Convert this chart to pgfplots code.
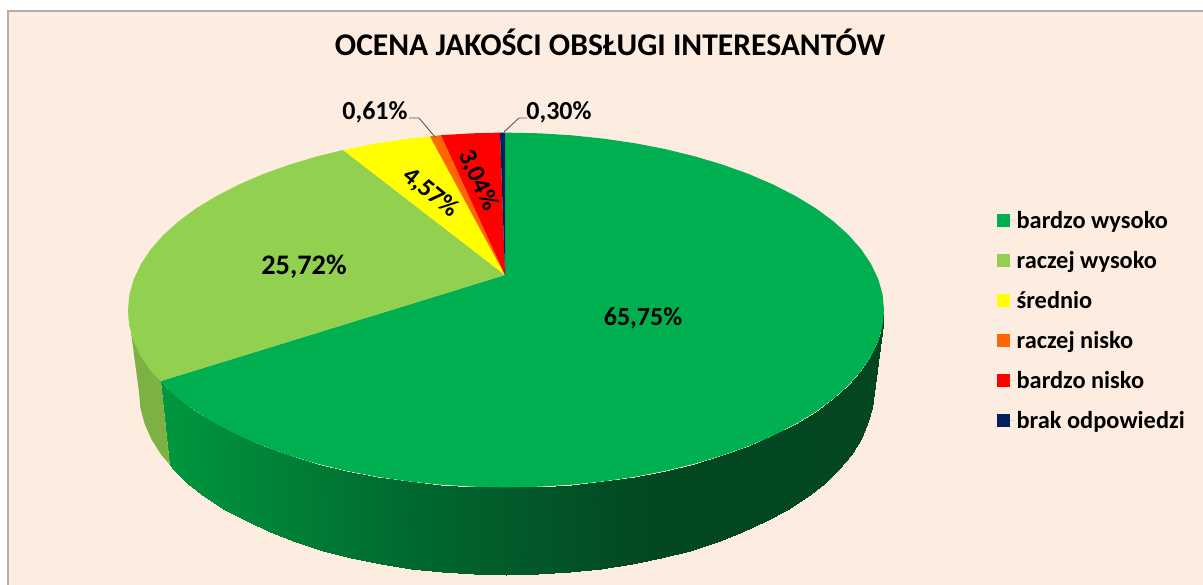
\documentclass[border=0pt]{standalone}
\usepackage{pgfplots}
\pgfplotsset{compat=1.18}
\usepackage{fontspec}
\setmainfont{Carlito}
\definecolor{bgc}{RGB}{253,237,225}
\definecolor{framec}{RGB}{178,174,172}
\definecolor{cgreen}{RGB}{0,176,80}
\definecolor{clight}{RGB}{146,208,80}
\definecolor{clightd}{RGB}{124,177,68}
\definecolor{cyel}{RGB}{255,255,0}
\definecolor{corange}{RGB}{255,102,0}
\definecolor{cred}{RGB}{255,0,0}
\definecolor{cnavy}{RGB}{0,32,96}
\definecolor{leader}{RGB}{90,90,90}
\begin{document}
\begin{tikzpicture}
\begin{axis}[
  scale only axis, width=1203pt, height=585pt,
  xmin=0, xmax=1203, ymin=0, ymax=585, y dir=reverse,
  axis lines=none, clip=true,
  colormap={sg}{rgb255=(0,150,62) rgb255=(0,105,48) rgb255=(3,72,33) rgb255=(3,70,32)},
  point meta min=170, point meta max=884,
  legend cell align=left,
  legend style={draw=none, fill=none, at={(axis cs:997,209)}, anchor=north west,
    font=\fontsize{24.4}{27}\selectfont\bfseries, row sep=17.4pt, inner sep=0pt, outer sep=0pt,
    /tikz/every even column/.append style={column sep=0pt}},
  legend image code/.code={\path (0pt,0pt) -- (17.6pt,0pt);\fill[#1] (0pt,-6.3pt) rectangle (12.6pt,6.3pt);},
]
\fill[white] (axis cs:0,0) rectangle (axis cs:1203,585);
\fill[bgc] (axis cs:8,11) rectangle (axis cs:1203,585);
\draw[framec, line width=1.4pt] (axis cs:8,585) -- (axis cs:8,11) -- (axis cs:1203,11);

% side wall: green band
\addplot[surf, shader=interp, mesh/rows=2, point meta=x, forget plot] table {
x y
884 310
882.6 325.5
878.3 340.8
871.1 355.9
861.2 370.7
848.6 385
833.4 398.7
815.7 411.8
795.5 424
773.3 435.4
749 445.9
722.8 455.3
695 463.6
665.7 470.8
635.3 476.7
603.8 481.3
571.6 484.7
539 486.7
506 487.4
473 486.7
440.4 484.7
408.2 481.3
376.7 476.7
346.3 470.8
317 463.6
289.2 455.3
263 445.9
238.7 435.4
216.5 424
196.3 411.8
178.6 398.7
163.4 385
161 381
873 392
871.6 408
867.4 423.8
860.5 439.4
850.9 454.6
838.6 469.3
823.8 483.5
806.6 497
787.1 509.6
765.5 521.4
741.9 532.2
716.5 541.9
689.5 550.5
661.1 557.9
631.5 564
601 568.8
569.7 572.2
538 574.3
506 575
474 574.3
442.3 572.2
411 568.8
380.5 564
350.9 557.9
322.5 550.5
295.5 541.9
270.1 532.2
246.5 521.4
224.9 509.6
205.4 497
188.2 483.5
173.4 469.3
170 465
};

% side wall: light green band
\addplot[fill=clightd, draw=none, forget plot] coordinates {
(161,381) (150.8,370.7) (140.9,355.9) (133.7,340.8) (129.4,325.5) (128,310)
(139,392) (140.4,408) (144.6,423.8) (151.5,439.4) (161.1,454.6) (170,465)
} --cycle;

% top face
\addplot[fill=cgreen, draw=none] coordinates {
(505,275) (505,132.6) (539,133.3) (571.6,135.3) (603.8,138.7) (635.3,143.3) (665.7,149.2)
(695,156.4) (722.8,164.7) (749,174.1) (773.3,184.6) (795.5,196) (815.7,208.2) (833.4,221.3)
(848.6,235) (861.2,249.3) (871.1,264.1) (878.3,279.2) (882.6,294.5) (884,310)
(882.6,325.5) (878.3,340.8) (871.1,355.9) (861.2,370.7) (848.6,385) (833.4,398.7)
(815.7,411.8) (795.5,424) (773.3,435.4) (749,445.9) (722.8,455.3) (695,463.6) (665.7,470.8)
(635.3,476.7) (603.8,481.3) (571.6,484.7) (539,486.7) (506,487.4) (473,486.7) (440.4,484.7)
(408.2,481.3) (376.7,476.7) (346.3,470.8) (317,463.6) (289.2,455.3) (263,445.9) (238.7,435.4)
(216.5,424) (196.3,411.8) (178.6,398.7) (163.4,385) (161,381)
} --cycle;
\addlegendentry{bardzo wysoko}
\addplot[fill=clight, draw=none] coordinates {
(505,275) (161,381) (150.8,370.7) (140.9,355.9) (133.7,340.8) (129.4,325.5) (128,310)
(129.4,294.5) (133.7,279.2) (140.9,264.1) (150.8,249.3) (163.4,235) (178.6,221.3) (196.3,208.2)
(216.5,196) (238.7,184.6) (263,174.1) (289.2,164.7) (317,156.4) (343,150)
} --cycle;
\addlegendentry{raczej wysoko}
\addplot[fill=cyel, draw=none] coordinates {
(505,275) (343,150) (376.7,143.3) (408.2,138.7) (430,136.4)
} --cycle;
\addlegendentry{średnio}
\addplot[fill=corange, draw=none] coordinates {
(505,275) (430,136.4) (441,135.2)
} --cycle;
\addlegendentry{raczej nisko}
\addplot[fill=cred, draw=none] coordinates {
(505,275) (441,135.2) (473,133.3) (500,132.6)
} --cycle;
\addlegendentry{bardzo nisko}
\addplot[fill=cnavy, draw=none] coordinates {
(505,275) (500,132.6) (505,132.6)
} --cycle;
\addlegendentry{brak odpowiedzi}

% leader lines
\addplot[leader, line width=0.9pt, forget plot] coordinates {(409,118) (419,118) (435,137)};
\addplot[leader, line width=0.9pt, forget plot] coordinates {(527,118) (519,118) (504,132)};

\node[font=\fontsize{31.6}{34}\selectfont\bfseries] at (axis cs:610,42) {OCENA JAKOŚCI OBSŁUGI INTERESANTÓW};
\node[font=\fontsize{28.3}{30}\selectfont\bfseries] at (axis cs:304,267) {25,72\%};
\node[font=\fontsize{26}{28}\selectfont\bfseries] at (axis cs:643,318) {65,75\%};
\node[font=\fontsize{25.5}{28}\selectfont\bfseries, rotate=-39] at (axis cs:431,193) {4,57\%};
\node[font=\fontsize{25.5}{28}\selectfont\bfseries, rotate=-65] at (axis cs:478,180) {3,04\%};
\node[font=\fontsize{26}{28}\selectfont\bfseries] at (axis cs:375,112) {0,61\%};
\node[font=\fontsize{26}{28}\selectfont\bfseries] at (axis cs:559,112) {0,30\%};
\end{axis}
\end{tikzpicture}
\end{document}
